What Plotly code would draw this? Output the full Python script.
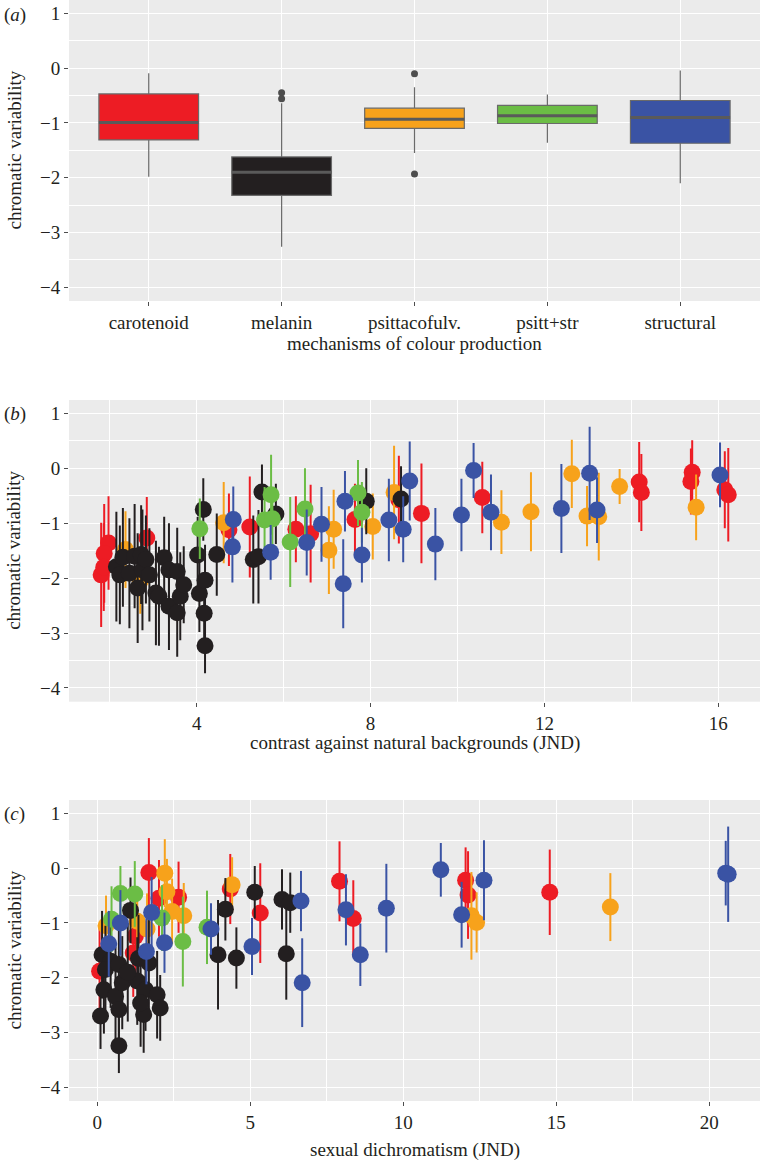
import plotly.graph_objects as go

# ---------------- data ----------------
categories = ["carotenoid", "melanin", "psittacofulv.", "psitt+str", "structural"]
box_colors = ["#ED1C24", "#231F20", "#F7A21B", "#6BBD45", "#3A53A4"]
box_upper = [-0.09, -0.64, -0.35, -0.48, -0.04]
box_q3 = [-0.47, -1.62, -0.73, -0.68, -0.59]
box_median = [-0.99, -1.90, -0.93, -0.87, -0.90]
box_q1 = [-1.31, -2.32, -1.10, -1.01, -1.37]
box_lower = [-1.98, -3.26, -1.55, -1.36, -2.10]
outlier_cat = [1, 1, 2, 2]
outlier_val = [-0.45, -0.56, -0.10, -1.93]

group_names = ["carotenoid", "psittacofulv.", "melanin", "psitt+str", "structural"]
group_colors = ["#ED1C24", "#F7A21B", "#231F20", "#6BBD45", "#3A53A4"]

# panel b: contrast against natural backgrounds
b_red_x = [1.97, 1.87, 1.80, 1.86, 2.85, 4.74, 5.22, 6.28, 6.62, 7.64, 8.65, 9.17, 10.57, 14.18, 14.23, 15.40, 15.37, 16.15, 16.23]
b_red_y = [-1.36, -1.55, -1.94, -1.80, -1.27, -1.12, -1.07, -1.11, -1.19, -0.93, -0.57, -0.82, -0.53, -0.25, -0.44, -0.07, -0.24, -0.39, -0.48]
b_red_e = [0.85, 0.90, 0.95, 0.80, 0.75, 0.66, 0.92, 0.60, 0.89, 0.65, 0.80, 0.91, 0.65, 0.73, 0.70, 0.58, 0.60, 0.70, 0.85]

b_orange_x = [2.36, 2.70, 4.62, 7.04, 7.15, 8.05, 8.54, 11.01, 11.69, 12.63, 12.98, 13.25, 13.73, 15.49]
b_orange_y = [-1.48, -2.05, -0.99, -1.49, -1.11, -1.06, -0.44, -0.98, -0.79, -0.10, -0.87, -0.88, -0.33, -0.71]
b_orange_e = [0.70, 0.60, 0.74, 0.80, 0.72, 0.60, 0.85, 0.58, 0.72, 0.62, 0.55, 0.80, 0.32, 0.60]

b_black_x = [2.15, 2.23, 2.30, 2.45, 2.57, 2.64, 2.72, 2.75, 2.83, 2.91, 3.06, 3.13, 3.25, 3.36, 3.36, 3.55, 3.55, 3.62, 3.70,
             4.02, 4.06, 4.15, 4.17, 4.19, 4.19, 4.46, 5.30, 5.42, 5.50, 5.82, 7.90, 8.70]
b_black_y = [-1.79, -1.94, -1.62, -1.91, -1.60, -2.18, -1.57, -1.85, -1.66, -1.94, -2.27, -2.33, -1.63, -1.85, -2.51, -1.88, -2.63, -2.33, -2.12,
             -1.58, -2.28, -0.75, -2.64, -2.04, -3.23, -1.57, -1.66, -1.61, -0.43, -0.83, -0.60, -0.56]
b_black_e = [1.00, 0.90, 0.90, 1.00, 0.95, 1.00, 0.90, 1.10, 0.80, 0.85, 0.95, 0.90, 0.75, 0.85, 0.80, 0.80, 0.80, 0.80, 0.70,
             0.70, 0.70, 0.57, 0.60, 0.65, 0.50, 0.75, 0.80, 0.85, 0.50, 0.55, 0.60, 0.60]

b_green_x = [4.07, 5.71, 5.56, 5.74, 6.15, 6.49, 7.71, 7.80]
b_green_y = [-1.10, -0.48, -0.94, -0.92, -1.34, -0.74, -0.45, -0.80]
b_green_e = [0.55, 0.73, 0.60, 0.55, 0.82, 0.74, 0.60, 0.55]

b_blue_x = [4.84, 4.82, 5.70, 6.53, 6.87, 7.41, 7.37, 7.80, 8.42, 8.75, 8.90, 9.49, 10.09, 10.37, 10.77, 12.39, 13.04, 13.21, 16.04]
b_blue_y = [-0.93, -1.43, -1.53, -1.35, -1.02, -0.60, -2.10, -1.58, -0.94, -1.11, -0.23, -1.38, -0.85, -0.04, -0.80, -0.73, -0.09, -0.76, -0.12]
b_blue_e = [0.60, 0.65, 0.50, 0.60, 0.68, 0.55, 0.81, 0.50, 0.75, 0.60, 0.72, 0.66, 0.66, 0.50, 0.69, 0.81, 0.85, 0.60, 0.59]

# panel c: sexual dichromatism
c_red_x = [0.08, 1.69, 2.02, 2.66, 1.25, 1.18, 4.35, 5.33, 7.92, 8.37, 12.04, 12.12, 14.79]
c_red_y = [-1.88, -0.08, -0.55, -0.53, -1.24, -1.55, -0.38, -0.82, -0.24, -0.92, -0.22, -0.49, -0.44]
c_red_e = [0.80, 0.63, 0.70, 0.65, 0.75, 0.80, 0.64, 0.91, 0.73, 0.70, 0.60, 0.80, 0.78]

c_orange_x = [2.21, 2.28, 2.83, 0.29, 1.31, 1.63, 2.45, 4.41, 12.23, 12.40, 16.77]
c_orange_y = [-0.09, -0.43, -0.87, -1.05, -0.97, -1.11, -0.79, -0.30, -0.87, -0.99, -0.71]
c_orange_e = [0.62, 0.60, 0.60, 0.55, 0.60, 0.65, 0.60, 0.50, 0.80, 0.55, 0.62]

c_black_x = [0.16, 0.44, 0.27, 0.71, 1.09, 1.69, 0.22, 0.60, 0.82, 1.31, 1.58, 1.96, 2.06, 1.52, 0.71, 0.11, 0.71, 1.42, 1.00, 1.35,
             4.19, 3.95, 4.55, 5.15, 6.04, 6.31, 6.18]
c_black_y = [-1.58, -1.70, -1.85, -1.76, -0.77, -1.73, -2.22, -2.34, -2.09, -2.06, -2.22, -2.31, -2.55, -2.67, -2.58, -2.70, -3.24, -2.46, -1.90, -1.65,
             -0.75, -1.58, -1.64, -0.44, -0.57, -0.63, -1.56]
c_black_e = [0.80, 0.85, 0.80, 0.90, 0.60, 0.85, 0.80, 0.90, 0.85, 0.80, 0.75, 0.80, 0.60, 0.70, 0.60, 0.60, 0.50, 0.80, 0.90, 0.80,
             0.57, 1.00, 0.56, 0.48, 0.55, 0.55, 0.84]

c_green_x = [0.76, 1.23, 0.47, 2.12, 2.80, 3.59]
c_green_y = [-0.46, -0.47, -0.93, -0.91, -1.34, -1.08]
c_green_e = [0.50, 0.60, 0.60, 0.60, 0.82, 0.67]

c_blue_x = [0.76, 1.78, 0.38, 1.61, 2.20, 3.72, 5.06, 6.66, 6.70, 8.13, 8.60, 9.45, 11.23, 11.91, 12.64, 20.54, 20.62]
c_blue_y = [-1.00, -0.81, -1.38, -1.52, -1.36, -1.11, -1.43, -0.60, -2.09, -0.76, -1.58, -0.73, -0.03, -0.85, -0.22, -0.09, -0.11]
c_blue_e = [0.60, 0.65, 0.60, 0.60, 0.55, 0.47, 0.52, 0.55, 0.81, 0.65, 0.57, 0.81, 0.49, 0.60, 0.73, 0.59, 0.87]

y_title = "chromatic variability"
xa_title = "mechanisms of colour production"
xb_title = "contrast against natural backgrounds (JND)"
xc_title = "sexual dichromatism (JND)"

# ---------------- figure ----------------
W, H = 760, 1161
ML = 69
FONT = "Liberation Serif, Times New Roman, serif"
TXT = "#231F20"
FS = 19
BOX_W = 0.75

fig = go.Figure()

# panel a boxes
for i, cat in enumerate(categories):
    fig.add_trace(go.Box(
        x=[i], q1=[box_q1[i]], median=[box_median[i]], q3=[box_q3[i]],
        lowerfence=[box_lower[i]], upperfence=[box_upper[i]],
        width=BOX_W, fillcolor=box_colors[i], whiskerwidth=0,
        line=dict(color="#6A6A6A", width=1.2), boxpoints=False,
        name=cat, xaxis="x", yaxis="y", hoverinfo="skip"))

# median bars
mx, my = [], []
for i, m in enumerate(box_median):
    mx += [i - BOX_W / 2, i + BOX_W / 2, None]
    my += [m, m, None]
fig.add_trace(go.Scatter(x=mx, y=my, mode="lines", line=dict(color="#5A5A5A", width=3),
                         xaxis="x", yaxis="y", hoverinfo="skip"))
fig.add_trace(go.Scatter(x=outlier_cat, y=outlier_val, mode="markers",
                         marker=dict(color="#4D4D4D", size=7), xaxis="x", yaxis="y"))

b_sets = [(b_red_x, b_red_y, b_red_e), (b_orange_x, b_orange_y, b_orange_e),
          (b_black_x, b_black_y, b_black_e), (b_green_x, b_green_y, b_green_e),
          (b_blue_x, b_blue_y, b_blue_e)]
c_sets = [(c_red_x, c_red_y, c_red_e), (c_orange_x, c_orange_y, c_orange_e),
          (c_black_x, c_black_y, c_black_e), (c_green_x, c_green_y, c_green_e),
          (c_blue_x, c_blue_y, c_blue_e)]

for sets, xa, ya in [(b_sets, "x2", "y2"), (c_sets, "x3", "y3")]:
    for (xs, ys, es), col, nm in zip(sets, group_colors, group_names):
        fig.add_trace(go.Scatter(
            x=xs, y=ys, mode="markers", name=nm,
            marker=dict(color=col, size=17, line=dict(width=0)),
            error_y=dict(type="data", array=es, visible=True, color=col, thickness=2, width=0),
            xaxis=xa, yaxis=ya))

def px_to_paper_y(py):
    return 1 - py / H

def px_to_paper_x(px):
    return (px - ML) / (W - ML)

common_axis = dict(
    showgrid=True, gridcolor="white", gridwidth=1.3, zeroline=False,
    ticks="outside", ticklen=4, tickwidth=1, tickcolor="#4D4D4D",
    tickfont=dict(family=FONT, size=FS, color=TXT), showline=False,
)
y_common = dict(common_axis, range=[-4.25, 1.245], tickmode="linear", tick0=0, dtick=1,
                minor=dict(dtick=0.5, showgrid=True, gridcolor="white", gridwidth=0.6))

panels = {  # pixel top/bottom
    "a": (0, 301),
    "b": (400, 701.7),
    "c": (800, 1101),
}

def dom(p):
    t, b = panels[p]
    return [px_to_paper_y(b), px_to_paper_y(t)]

fig.update_layout(
    width=W, height=H,
    margin=dict(l=ML, r=0, t=0, b=0),
    paper_bgcolor="white", plot_bgcolor="#EBEBEB",
    showlegend=False,
    font=dict(family=FONT, size=FS, color=TXT),
    xaxis=dict(common_axis, domain=[0, 1], anchor="y", range=[-0.6, 4.6],
               tickmode="array", tickvals=list(range(len(categories))), ticktext=categories),
    yaxis=dict(y_common, domain=dom("a"), anchor="x"),
    xaxis2=dict(common_axis, domain=[0, 1], anchor="y2", range=[1.06, 16.96],
                tickmode="linear", tick0=0, dtick=4,
                minor=dict(dtick=2, showgrid=True, gridcolor="white", gridwidth=0.6)),
    yaxis2=dict(y_common, domain=dom("b"), anchor="x2"),
    xaxis3=dict(common_axis, domain=[0, 1], anchor="y3", range=[-0.92, 21.66],
                tickmode="linear", tick0=0, dtick=5,
                minor=dict(dtick=2.5, showgrid=True, gridcolor="white", gridwidth=0.6)),
    yaxis3=dict(y_common, domain=dom("c"), anchor="x3"),
)

ann = []
for p, lab, xt, xty in [("a", "a", xa_title, 343), ("b", "b", xb_title, 743), ("c", "c", xc_title, 1150)]:
    t, b = panels[p]
    ann.append(dict(text=y_title, textangle=-90, xref="paper", yref="paper",
                    x=px_to_paper_x(14), y=px_to_paper_y((t + b) / 2),
                    xanchor="center", yanchor="middle", showarrow=False,
                    font=dict(family=FONT, size=FS, color=TXT)))
    ann.append(dict(text=xt, xref="paper", yref="paper", x=0.5, y=px_to_paper_y(xty),
                    xanchor="center", yanchor="middle", showarrow=False,
                    font=dict(family=FONT, size=FS, color=TXT)))
    ann.append(dict(text="(<i>%s</i>)" % lab, xref="paper", yref="paper",
                    x=px_to_paper_x(2), y=px_to_paper_y(t + 14 if t > 0 else 15),
                    xanchor="left", yanchor="middle", showarrow=False,
                    font=dict(family=FONT, size=FS, color=TXT)))
fig.update_layout(annotations=ann)

fig.write_html("out.html", config={"displayModeBar": False},
               post_script="document.body.style.margin='0';document.body.style.padding='0';window.dispatchEvent(new Event('resize'));")
